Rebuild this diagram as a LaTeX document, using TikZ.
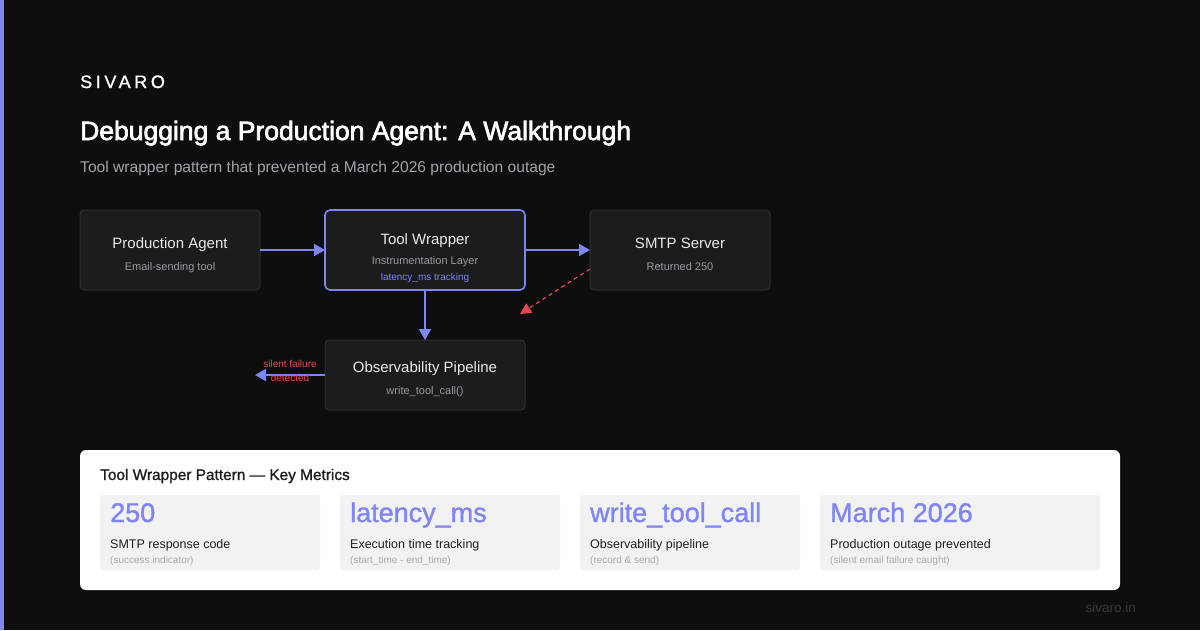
\documentclass[tikz,border=0pt]{standalone}
\usepackage{fontspec}
\setmainfont{Liberation Sans}
\newfontfamily\semibold[FakeBold=2.4]{Liberation Sans}
\newfontfamily\lightbold[FakeBold=1.2]{Liberation Sans}
\usetikzlibrary{arrows.meta}
\definecolor{bg}{HTML}{0E0E0F}
\definecolor{accent}{HTML}{7F85F5}
\definecolor{boxfill}{HTML}{1C1C1F}
\definecolor{boxline}{HTML}{2E2E32}
\definecolor{ntitle}{HTML}{EAEAEA}
\definecolor{nsub}{HTML}{9A9AA2}
\definecolor{subt}{HTML}{A3A3AB}
\definecolor{warn}{HTML}{E5484D}
\definecolor{card}{HTML}{F2F2F3}
\definecolor{cardlabel}{HTML}{1E1E1E}
\definecolor{cardsub}{HTML}{A8A8B0}
\definecolor{foot}{HTML}{3A3A3E}
\tikzset{
  flowbox/.style={draw=boxline, line width=1pt, fill=boxfill, rounded corners=4pt},
  hotbox/.style={draw=accent, line width=1.6pt, fill=boxfill, rounded corners=5pt},
  ntext/.style={text=ntitle, font=\fontsize{15}{18}\selectfont, anchor=base},
  nsubtext/.style={text=nsub, font=\fontsize{11}{13}\selectfont, anchor=base},
  flow/.style={draw=accent, line width=1.6pt, -{Triangle[length=11pt,width=12pt]}},
  cardbox/.style={fill=card, rounded corners=3pt},
  cval/.style={text=accent, font=\lightbold\fontsize{27}{30}\selectfont, anchor=base west},
  clab/.style={text=cardlabel, font=\fontsize{12.5}{15}\selectfont, anchor=base west},
  csub/.style={text=cardsub, font=\fontsize{10}{12}\selectfont, anchor=base west},
}
\begin{document}
\begin{tikzpicture}[x=1pt,y=-1pt]
\useasboundingbox (0,0) rectangle (1200,630);
\fill[bg] (0,0) rectangle (1200,630);
\fill[accent] (0,0) rectangle (4,630);

% header
\node[anchor=base west, inner sep=0, text=white, font=\lightbold\fontsize{18}{20}\selectfont\addfontfeatures{LetterSpace=20}] (brand) at (80,88) {SIVARO};
\node[anchor=base west, inner sep=0, text=white, font=\semibold\fontsize{26.5}{30}\selectfont] (title) at (80,140) {Debugging a Production Agent: A Walkthrough};
\node[anchor=base west, inner sep=0, text=subt, font=\fontsize{15.6}{18}\selectfont] (subtitle) at (80,172) {Tool wrapper pattern that prevented a March 2026 production outage};

% boxes
\path[flowbox] (80,210) rectangle (260,290);
\node[ntext] (pat) at (170,248) {Production Agent};
\node[nsubtext] (pas) at (170,270) {Email-sending tool};

\path[hotbox] (325,210) rectangle (525,290);
\node[ntext] (twt) at (425,244) {Tool Wrapper};
\node[nsubtext] (tws) at (425,264) {Instrumentation Layer};
\node[text=accent, font=\fontsize{10}{12}\selectfont, anchor=base] (twl) at (425,280) {latency\_ms tracking};

\path[flowbox] (590,210) rectangle (770,290);
\node[ntext] (smt) at (680,248) {SMTP Server};
\node[nsubtext] (sms) at (680,270) {Returned 250};

\path[flowbox] (325,340) rectangle (525,410);
\node[ntext] (opt) at (425,372) {Observability Pipeline};
\node[nsubtext] (ops) at (425,394) {write\_tool\_call()};

% connector anchors
\coordinate (paE) at (260,250);
\coordinate (twW) at (325,250);
\coordinate (twE) at (525,250);
\coordinate (smW) at (590,250);
\coordinate (twS) at (425,290);
\coordinate (opN) at (425,340);
\coordinate (opW) at (325,375);
\coordinate (outL) at (255,375);
\coordinate (smSW) at (590,269);
\coordinate (retEnd) at (520,314);

\draw[flow] (paE) -- (twW);
\draw[flow] (twE) -- (smW);
\draw[flow] (twS) -- (opN);
\draw[flow] (opW) -- (outL);
\draw[draw=warn, line width=1.2pt, dash pattern=on 4pt off 3.5pt, -{Triangle[length=11pt,width=11pt]}] (smSW) -- (retEnd);

\node[text=warn, font=\fontsize{10}{14.5}\selectfont, align=center, inner sep=0] (sf) at (290,371) {silent failure\\detected};

% bottom panel
\fill[white, rounded corners=6pt] (80,450) rectangle (1120,590);
\node[anchor=base west, inner sep=0, text=cardlabel, font=\lightbold\fontsize{15.4}{18}\selectfont] (ptitle) at (100,480) {Tool Wrapper Pattern — Key Metrics};

\path[cardbox] (100,495) rectangle (320,570);
\node[cval, inner sep=0] (v1) at (110,522) {250};
\node[clab, inner sep=0] (l1) at (110,548) {SMTP response code};
\node[csub, inner sep=0] (s1) at (110,563) {(success indicator)};

\path[cardbox] (340,495) rectangle (560,570);
\node[cval, inner sep=0] (v2) at (350,522) {latency\_ms};
\node[clab, inner sep=0] (l2) at (350,548) {Execution time tracking};
\node[csub, inner sep=0] (s2) at (350,563) {(start\_time - end\_time)};

\path[cardbox] (580,495) rectangle (800,570);
\node[cval, inner sep=0] (v3) at (590,522) {write\_tool\_call};
\node[clab, inner sep=0] (l3) at (590,548) {Observability pipeline};
\node[csub, inner sep=0] (s3) at (590,563) {(record \& send)};

\path[cardbox] (820,495) rectangle (1100,570);
\node[cval, inner sep=0] (v4) at (830,522) {March 2026};
\node[clab, inner sep=0] (l4) at (830,548) {Production outage prevented};
\node[csub, inner sep=0] (s4) at (830,563) {(silent email failure caught)};

\node[anchor=base east, inner sep=0, text=foot, font=\fontsize{13.5}{15}\selectfont] (site) at (1136,612) {sivaro.in};
\end{tikzpicture}
\end{document}
